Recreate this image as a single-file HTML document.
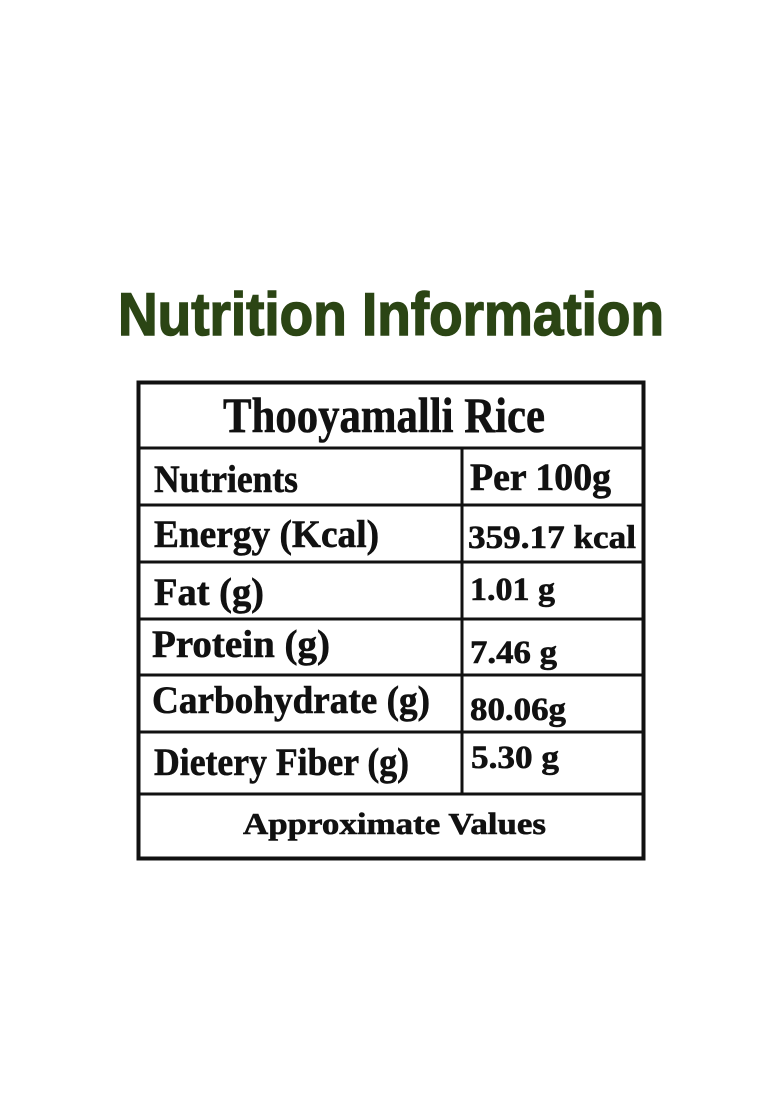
<!DOCTYPE html>
<html><head><meta charset="utf-8"><style>
html,body{margin:0;padding:0;background:#fff;}
svg{display:block}
</style></head><body>
<svg width="780" height="1108" viewBox="0 0 780 1108" xmlns="http://www.w3.org/2000/svg">
<rect width="780" height="1108" fill="#fff"/>
<text x="118" y="335" font-family="Liberation Sans, sans-serif" font-weight="bold" font-size="60" fill="#2b4514" stroke="#2b4514" stroke-width="1.5" textLength="546" lengthAdjust="spacingAndGlyphs">Nutrition Information</text>
<g stroke="#111" fill="none">
<rect x="138.5" y="382.5" width="505" height="476" stroke-width="4"/>
<g stroke-width="3">
<line x1="137" y1="448" x2="645" y2="448"/>
<line x1="137" y1="505" x2="645" y2="505"/>
<line x1="137" y1="562" x2="645" y2="562"/>
<line x1="137" y1="619" x2="645" y2="619"/>
<line x1="137" y1="675" x2="645" y2="675"/>
<line x1="137" y1="732" x2="645" y2="732"/>
<line x1="137" y1="794" x2="645" y2="794"/>
<line x1="462" y1="448" x2="462" y2="794"/>
</g>
</g>
<g font-family="Liberation Serif, serif" font-weight="bold" fill="#111" stroke="#111" stroke-width="0.6">
<text x="223" y="432" font-size="50" textLength="322" lengthAdjust="spacingAndGlyphs">Thooyamalli Rice</text>
<text x="154" y="492" font-size="39" textLength="144" lengthAdjust="spacingAndGlyphs">Nutrients</text>
<text x="470" y="490" font-size="39" textLength="141" lengthAdjust="spacingAndGlyphs">Per 100g</text>
<text x="154" y="547" font-size="39" textLength="225" lengthAdjust="spacingAndGlyphs">Energy (Kcal)</text>
<text x="468" y="548" font-size="33" textLength="168" lengthAdjust="spacingAndGlyphs">359.17 kcal</text>
<text x="154" y="605" font-size="39" textLength="110" lengthAdjust="spacingAndGlyphs">Fat (g)</text>
<text x="470" y="600" font-size="33" textLength="85" lengthAdjust="spacingAndGlyphs">1.01 g</text>
<text x="152" y="657" font-size="39" textLength="178" lengthAdjust="spacingAndGlyphs">Protein (g)</text>
<text x="470" y="663" font-size="33" textLength="87" lengthAdjust="spacingAndGlyphs">7.46 g</text>
<text x="152" y="713" font-size="39" textLength="278" lengthAdjust="spacingAndGlyphs">Carbohydrate (g)</text>
<text x="470" y="720" font-size="33" textLength="96" lengthAdjust="spacingAndGlyphs">80.06g</text>
<text x="154" y="775" font-size="39" textLength="255" lengthAdjust="spacingAndGlyphs">Dietery Fiber (g)</text>
<text x="471" y="768" font-size="33" textLength="88" lengthAdjust="spacingAndGlyphs">5.30 g</text>
<text x="243" y="834" font-size="31" textLength="303" lengthAdjust="spacingAndGlyphs">Approximate Values</text>
</g>
</svg>
</body></html>
